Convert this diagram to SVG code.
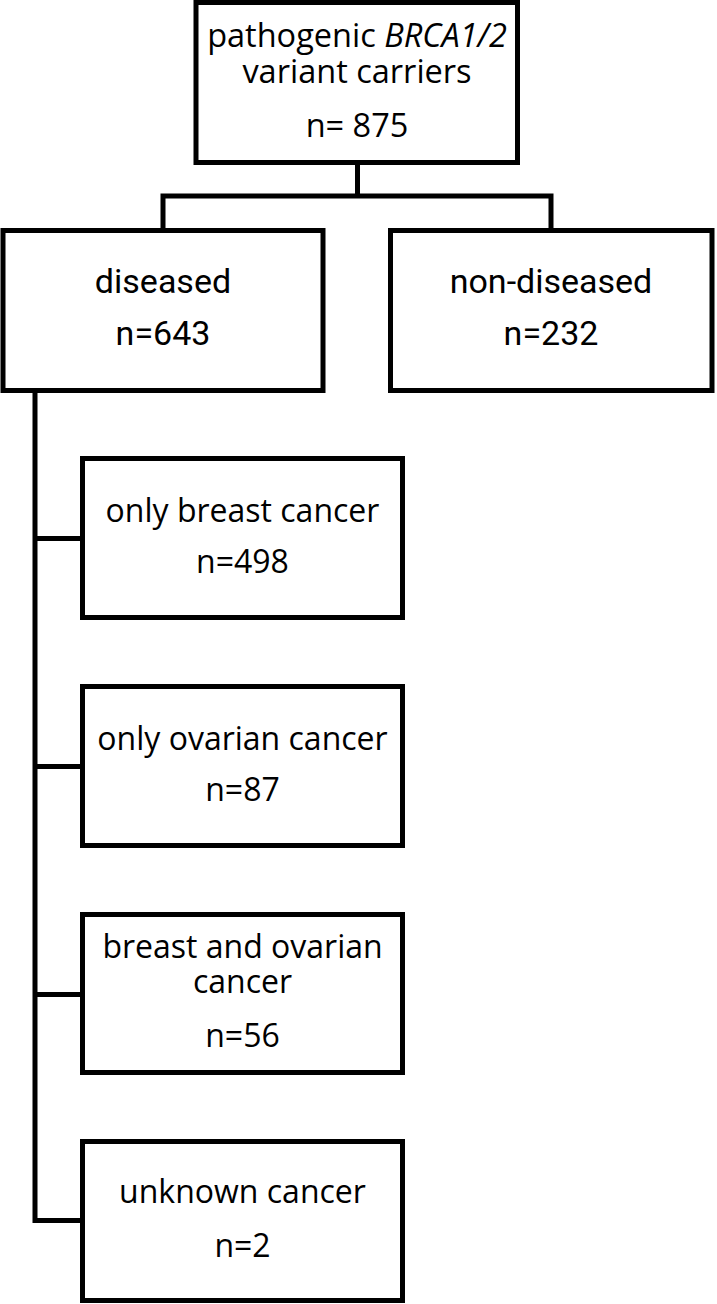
<svg xmlns="http://www.w3.org/2000/svg" width="717" height="1304" viewBox="0 0 717 1304">
<style>
.box{fill:#fff;stroke:#000;stroke-width:5}
.conn{fill:none;stroke:#000;stroke-width:5;stroke-linejoin:miter}
.t{font-family:"Open Sans","DejaVu Sans",sans-serif;font-size:32px;fill:#000;text-anchor:middle}
.tt{font-family:"Open Sans","DejaVu Sans",sans-serif;font-size:32.5px;fill:#000;text-anchor:middle}
.n{font-family:Roboto,"Liberation Sans",sans-serif;font-size:34px;fill:#000;text-anchor:middle}
</style>
<rect width="717" height="1304" fill="#fff"/>
<g id="connectors">
<path class="conn" d="M357.5,163 V196"/>
<path class="conn" d="M163,231 V196 H551 V231"/>
<path class="conn" d="M35,390 V1220.5 H83"/>
<path class="conn" d="M35,538.5 H83"/>
<path class="conn" d="M35,766.5 H83"/>
<path class="conn" d="M35,994.5 H83"/>
</g>
<g id="carriers">
<rect class="box" x="196" y="2.5" width="321.5" height="160"/>
<text class="tt" x="357" y="47">pathogenic <tspan font-style="italic">BRCA1/2</tspan></text>
<text class="tt" x="357" y="83">variant carriers</text>
<text class="tt" x="357" y="137">n= 875</text>
</g>
<g id="diseased">
<rect class="box" x="3" y="230.5" width="320" height="160"/>
<text class="n" x="163" y="293">diseased</text>
<text class="n" x="163" y="345">n=643</text>
</g>
<g id="non-diseased">
<rect class="box" x="390.5" y="230.5" width="321.5" height="160"/>
<text class="n" x="551" y="293">non-diseased</text>
<text class="n" x="551" y="345">n=232</text>
</g>
<g id="breast">
<rect class="box" x="82.5" y="458.5" width="320" height="159"/>
<text class="t" x="242.5" y="522">only breast cancer</text>
<text class="t" x="242.5" y="573">n=498</text>
</g>
<g id="ovarian">
<rect class="box" x="82.5" y="686.5" width="320" height="159"/>
<text class="t" x="242.5" y="750">only ovarian cancer</text>
<text class="t" x="242.5" y="801">n=87</text>
</g>
<g id="both">
<rect class="box" x="82.5" y="914.5" width="320" height="158"/>
<text class="t" x="242.5" y="958">breast and ovarian</text>
<text class="t" x="242.5" y="993">cancer</text>
<text class="t" x="242.5" y="1047">n=56</text>
</g>
<g id="unknown">
<rect class="box" x="82.5" y="1141.5" width="320" height="159"/>
<text class="t" x="242.5" y="1203">unknown cancer</text>
<text class="t" x="242.5" y="1257">n=2</text>
</g>
</svg>
